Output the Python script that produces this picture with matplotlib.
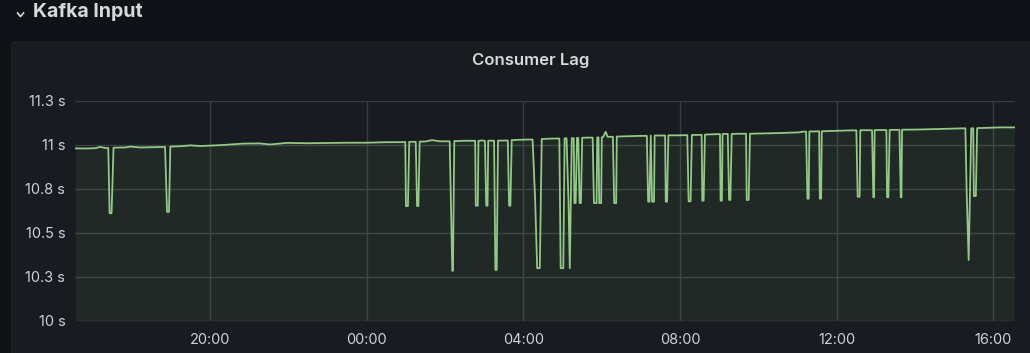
import matplotlib
matplotlib.use("Agg")
from matplotlib import pyplot as plt
from matplotlib import dates
from matplotlib.patches import FancyBboxPatch
from matplotlib.lines import Line2D
import pandas as pd

# consumer lag samples (clock time, seconds)
times = [
    "16:34", "16:49", "17:04", "17:12", "17:19",
    "17:24", "17:26", "17:29", "17:32",
    "17:50", "17:58", "18:13", "18:44",
    "18:51", "18:54", "18:57", "18:59",
    "19:14", "19:30", "19:45", "20:15", "20:51", "21:16", "21:32", "21:58",
    "22:30", "23:04", "23:30", "00:00", "00:30", "00:51",
    "00:59", "01:00", "01:03", "01:05", "01:10",
    "01:15", "01:17", "01:19", "01:21",
    "01:30", "01:40", "01:52",
    "02:07", "02:09", "02:11", "02:12", "02:14", "02:30",
    "02:46", "02:47", "02:50", "02:51", "02:56",
    "03:01", "03:03", "03:05", "03:06", "03:10",
    "03:15", "03:17", "03:19", "03:21", "03:28",
    "03:36", "03:38", "03:40", "03:42", "03:55", "04:05",
    "04:14", "04:18", "04:21", "04:25", "04:28", "04:40",
    "04:55", "04:57", "05:01", "05:03",
    "05:06", "05:09", "05:11", "05:14",
    "05:17", "05:18", "05:20", "05:22",
    "05:24", "05:26", "05:28", "05:30", "05:38",
    "05:46", "05:48", "05:52", "05:53",
    "05:55", "05:56", "05:59", "06:00",
    "06:02", "06:06", "06:09",
    "06:17", "06:19", "06:22", "06:23", "06:40", "07:00",
    "07:09", "07:11", "07:13", "07:15", "07:17", "07:20", "07:21", "07:30",
    "07:37", "07:38", "07:40", "07:42", "08:00",
    "08:11", "08:13", "08:16", "08:18", "08:25",
    "08:33", "08:34", "08:36", "08:38", "08:50",
    "09:01", "09:02", "09:04", "09:05", "09:09",
    "09:13", "09:15", "09:17", "09:19", "09:30",
    "09:41", "09:42", "09:45", "09:47",
    "10:10", "10:33", "11:03", "11:08",
    "11:13", "11:15", "11:17", "11:18", "11:25",
    "11:33", "11:34", "11:36", "11:37", "12:05", "12:20",
    "12:30", "12:32", "12:35", "12:36", "12:45",
    "12:54", "12:56", "12:57", "12:58", "13:07",
    "13:16", "13:17", "13:19", "13:21", "13:28",
    "13:36", "13:38", "13:39", "13:40",
    "14:07", "14:45", "15:13",
    "15:17", "15:19", "15:22", "15:26",
    "15:29", "15:30", "15:33", "15:35",
    "15:46", "16:09", "16:32",
]
lag = [
    10.981, 10.980, 10.982, 10.989, 10.983,
    10.983, 10.612, 10.612, 10.985,
    10.986, 10.991, 10.986, 10.988,
    10.989, 10.620, 10.620, 10.991,
    10.993, 10.998, 10.994, 10.999, 11.008, 11.009, 11.003, 11.012,
    11.010, 11.012, 11.013, 11.013, 11.016, 11.016,
    11.017, 10.653, 10.653, 11.018, 11.018,
    11.018, 10.653, 10.653, 11.019,
    11.020, 11.028, 11.021,
    11.021, 10.650, 10.285, 10.285, 11.022, 11.024,
    11.024, 10.655, 10.655, 11.023, 11.026,
    11.023, 10.655, 10.655, 11.024, 11.025,
    11.024, 10.290, 10.290, 11.025, 11.025,
    11.026, 10.655, 10.655, 11.028, 11.030, 11.031,
    11.031, 10.680, 10.300, 10.300, 11.034, 11.036,
    11.037, 10.300, 10.300, 11.038,
    11.038, 10.680, 10.300, 11.039,
    11.039, 10.670, 10.670, 11.040,
    11.040, 10.670, 10.670, 11.041, 11.042,
    11.042, 10.670, 10.670, 11.043,
    11.043, 10.670, 10.670, 11.044,
    11.045, 11.075, 11.046,
    11.047, 10.670, 10.670, 11.048, 11.050, 11.052,
    11.052, 10.678, 10.678, 11.054, 10.678, 10.678, 11.054, 11.054,
    11.054, 10.678, 10.678, 11.055, 11.055,
    11.056, 10.680, 10.680, 11.057, 11.057,
    11.058, 10.684, 10.684, 11.059, 11.061,
    11.062, 10.684, 10.684, 11.062, 11.063,
    11.063, 10.688, 10.688, 11.063, 11.064,
    11.064, 10.688, 10.688, 11.064,
    11.066, 11.068, 11.072, 11.076,
    11.076, 10.695, 10.695, 11.077, 11.077,
    11.078, 10.695, 10.695, 11.078, 11.081, 11.083,
    11.083, 10.706, 10.706, 11.084, 11.084,
    11.084, 10.703, 10.703, 11.085, 11.085,
    11.085, 10.703, 10.703, 11.086, 11.086,
    11.086, 10.703, 10.703, 11.087,
    11.088, 11.092, 11.095,
    11.095, 10.726, 10.347, 11.095,
    11.095, 10.710, 10.710, 11.096,
    11.097, 11.100, 11.100,
]

ytick_vals = [10, 10.25, 10.5, 10.75, 11, 11.25]
ytick_labels = ["10 s", "10.3 s", "10.5 s", "10.8 s", "11 s", "11.3 s"]

def stamp(t):
    ts = pd.Timestamp(f"2021-05-10 {t}")
    if t < "16:33":
        ts += pd.Timedelta(days=1)
    return ts

x = [stamp(t) for t in times]

page_bg = "#111217"
panel_bg = "#181b1f"
grid_c = "#3a3d42"
text_c = "#d0d0dc"
line_c = "#93c886"

plt.rcParams["font.family"] = ["Inter", "DejaVu Sans"]

fig = plt.figure(figsize=(10.3, 3.53), dpi=100)
fig.patch.set_facecolor(page_bg)

# panel box
panel = FancyBboxPatch((12 / 1030, -0.05), 1.1, (353 - 42) / 353 + 0.05,
                       boxstyle="round,pad=0,rounding_size=0.006",
                       transform=fig.transFigure, facecolor=panel_bg,
                       edgecolor="#202226", linewidth=1, zorder=-10)
fig.patches.append(panel)

# row header
fig.add_artist(Line2D([17.5 / 1030, 20.5 / 1030, 23.5 / 1030],
                      [1 - 13 / 353, 1 - 16.5 / 353, 1 - 13 / 353],
                      transform=fig.transFigure, color="#d8d9da", linewidth=1.2))
fig.text(33 / 1030, 1 - 12 / 353, "Kafka Input", color="#d8d9da", fontsize=14,
         fontweight="bold", va="center", ha="left")
fig.text(531 / 1030, 1 - 61 / 353, "Consumer Lag", color="#d8d9da", fontsize=12,
         fontweight="semibold", va="center", ha="center")

ax = fig.add_axes([75 / 1030, 32 / 353, 940 / 1030, 220 / 353], zorder=5)
ax.set_facecolor(panel_bg)
ax.plot(x, lag, color=line_c, linewidth=1.3, zorder=3)
ax.fill_between(x, lag, 10, color="#73BF69", alpha=0.09, linewidth=0, zorder=2)

ax.set_xlim(stamp("16:33"), stamp("16:33") + pd.Timedelta(days=1))
ax.set_ylim(10, 11.25)
ax.set_yticks(ytick_vals)
ax.set_yticklabels(ytick_labels)
ax.xaxis.set_major_locator(dates.HourLocator(byhour=[0, 4, 8, 12, 16, 20]))
ax.xaxis.set_major_formatter(dates.DateFormatter("%H:%M"))

ax.grid(True, color=grid_c, linewidth=1, zorder=1)
ax.set_axisbelow(True)
for s in ax.spines.values():
    s.set_visible(False)
ax.tick_params(length=0, colors=text_c, labelsize=10.5)
ax.tick_params(axis="y", pad=7)
ax.tick_params(axis="x", pad=9)

plt.savefig("out.png", dpi=100, facecolor=page_bg)
